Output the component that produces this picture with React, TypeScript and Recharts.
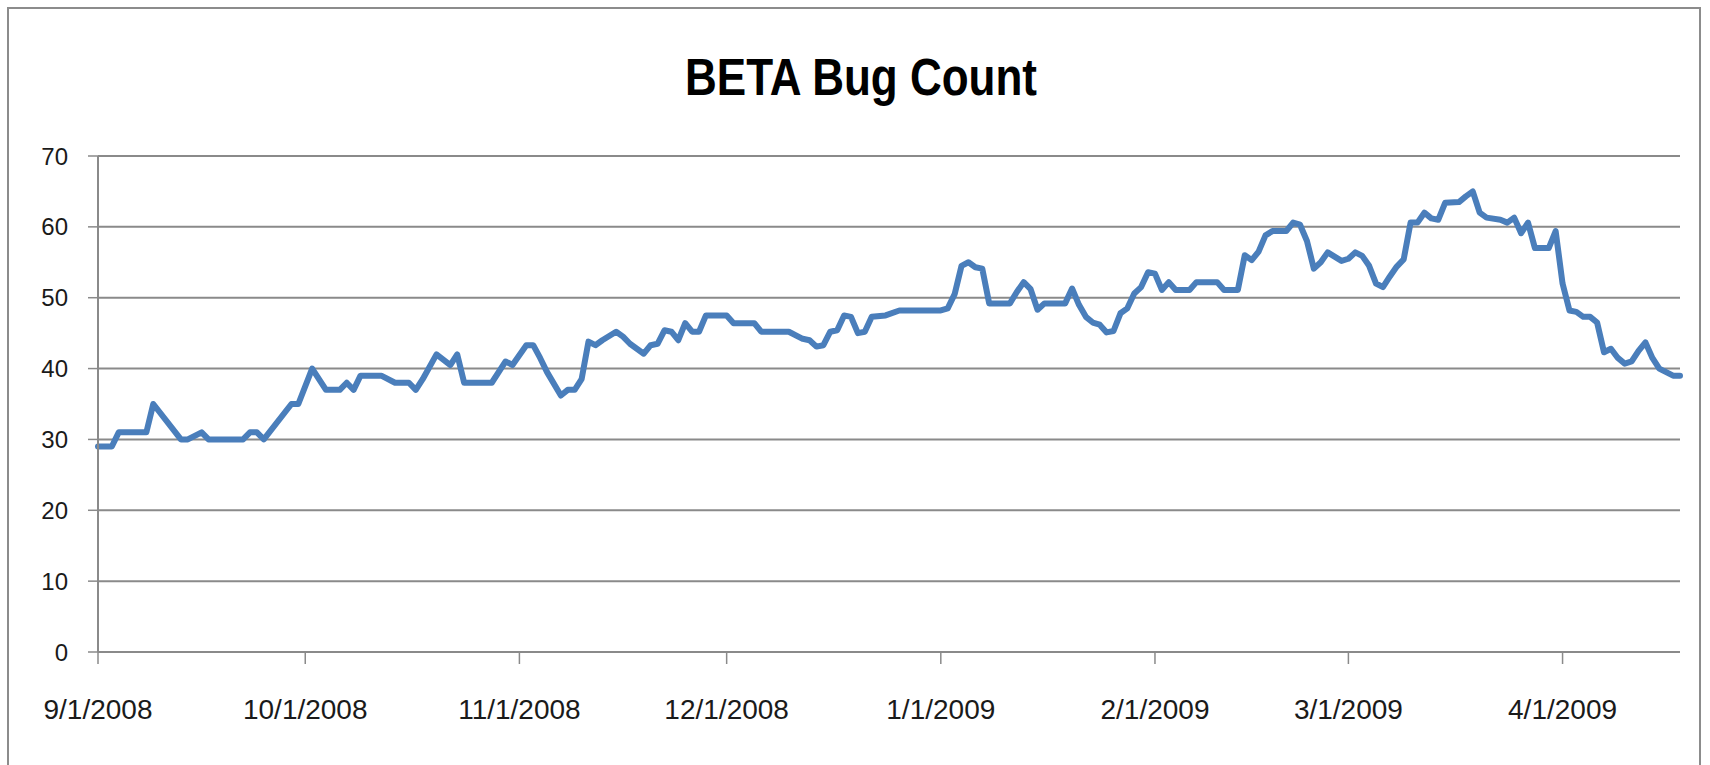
import React from 'react';
import { LineChart, Line, XAxis, YAxis, CartesianGrid } from 'recharts';

const chartTitle = 'BETA Bug Count';

const dates = [
  '2008-09-01', '2008-09-03', '2008-09-04', '2008-09-08', '2008-09-09', '2008-09-13', '2008-09-14', '2008-09-16',
  '2008-09-17', '2008-09-22', '2008-09-23', '2008-09-24', '2008-09-25', '2008-09-29', '2008-09-30', '2008-10-02',
  '2008-10-04', '2008-10-06', '2008-10-07', '2008-10-08', '2008-10-09', '2008-10-12', '2008-10-14', '2008-10-16',
  '2008-10-17', '2008-10-18', '2008-10-20', '2008-10-22', '2008-10-23', '2008-10-24', '2008-10-28', '2008-10-30',
  '2008-10-31', '2008-11-02', '2008-11-03', '2008-11-04', '2008-11-05', '2008-11-07', '2008-11-08', '2008-11-09',
  '2008-11-10', '2008-11-11', '2008-11-12', '2008-11-13', '2008-11-15', '2008-11-16', '2008-11-17', '2008-11-19',
  '2008-11-20', '2008-11-21', '2008-11-22', '2008-11-23', '2008-11-24', '2008-11-25', '2008-11-26', '2008-11-27',
  '2008-11-28', '2008-12-01', '2008-12-02', '2008-12-05', '2008-12-06', '2008-12-10', '2008-12-12', '2008-12-13',
  '2008-12-14', '2008-12-15', '2008-12-16', '2008-12-17', '2008-12-18', '2008-12-19', '2008-12-20', '2008-12-21',
  '2008-12-22', '2008-12-24', '2008-12-26', '2009-01-01', '2009-01-02', '2009-01-03', '2009-01-04', '2009-01-05',
  '2009-01-06', '2009-01-07', '2009-01-08', '2009-01-11', '2009-01-12', '2009-01-13', '2009-01-14', '2009-01-15',
  '2009-01-16', '2009-01-19', '2009-01-20', '2009-01-21', '2009-01-22', '2009-01-23', '2009-01-24', '2009-01-25',
  '2009-01-26', '2009-01-27', '2009-01-28', '2009-01-29', '2009-01-30', '2009-01-31', '2009-02-01', '2009-02-02',
  '2009-02-03', '2009-02-04', '2009-02-06', '2009-02-07', '2009-02-10', '2009-02-11', '2009-02-13', '2009-02-14',
  '2009-02-15', '2009-02-16', '2009-02-17', '2009-02-18', '2009-02-20', '2009-02-21', '2009-02-22', '2009-02-23',
  '2009-02-24', '2009-02-25', '2009-02-26', '2009-02-27', '2009-02-28', '2009-03-01', '2009-03-02', '2009-03-03',
  '2009-03-04', '2009-03-05', '2009-03-06', '2009-03-07', '2009-03-08', '2009-03-09', '2009-03-10', '2009-03-11',
  '2009-03-12', '2009-03-13', '2009-03-14', '2009-03-15', '2009-03-17', '2009-03-18', '2009-03-19', '2009-03-20',
  '2009-03-21', '2009-03-23', '2009-03-24', '2009-03-25', '2009-03-26', '2009-03-27', '2009-03-28', '2009-03-30',
  '2009-03-31', '2009-04-01', '2009-04-02', '2009-04-03', '2009-04-04', '2009-04-05', '2009-04-06', '2009-04-07',
  '2009-04-08', '2009-04-09', '2009-04-10', '2009-04-11', '2009-04-12', '2009-04-13', '2009-04-14', '2009-04-15',
  '2009-04-16', '2009-04-17', '2009-04-18',
];

const bugCounts = [
  29, 29, 31, 31, 35, 30, 30, 31,
  30, 30, 31, 31, 30, 35, 35, 40,
  37, 37, 38, 37, 39, 39, 38, 38,
  37, 38.5, 42, 40.5, 42, 38, 38, 41,
  40.5, 43.3, 43.3, 41.5, 39.5, 36.2, 37, 37,
  38.5, 43.8, 43.3, 44, 45.2, 44.5, 43.5, 42.1,
  43.3, 43.5, 45.4, 45.2, 44, 46.4, 45.2, 45.2,
  47.5, 47.5, 46.4, 46.4, 45.2, 45.2, 44.2, 44,
  43.1, 43.3, 45.2, 45.4, 47.5, 47.3, 45, 45.2,
  47.3, 47.5, 48.2, 48.2, 48.5, 50.5, 54.5, 55,
  54.3, 54.1, 49.2, 49.2, 50.8, 52.2, 51.2, 48.3,
  49.2, 49.2, 51.3, 49, 47.3, 46.5, 46.2, 45.1,
  45.3, 47.8, 48.5, 50.6, 51.5, 53.6, 53.4, 51.1,
  52.2, 51.1, 51.1, 52.2, 52.2, 51.1, 51.1, 56,
  55.3, 56.5, 58.8, 59.4, 59.4, 60.6, 60.3, 58,
  54.1, 55, 56.4, 55.8, 55.2, 55.5, 56.4, 55.9,
  54.5, 52, 51.5, 53, 54.4, 55.4, 60.6, 60.6,
  62, 61.2, 61, 63.4, 63.5, 64.3, 65, 62,
  61.3, 61, 60.6, 61.3, 59.1, 60.6, 57, 57,
  59.4, 52, 48.2, 48, 47.3, 47.3, 46.5, 42.3,
  42.8, 41.5, 40.7, 41, 42.5, 43.7, 41.5, 40,
  39.5, 39, 39,
];

const xTickDates = [
  '2008-09-01', '2008-10-01', '2008-11-01', '2008-12-01',
  '2009-01-01', '2009-02-01', '2009-03-01', '2009-04-01',
];

const yTicks = [0, 10, 20, 30, 40, 50, 60, 70];

const toDay = (s: string) => {
  const [y, m, d] = s.split('-').map(Number);
  return Date.UTC(y, m - 1, d) / 86400000;
};

const fmtDay = (v: number) => {
  const dt = new Date(Math.round(v) * 86400000);
  return `${dt.getUTCMonth() + 1}/${dt.getUTCDate()}/${dt.getUTCFullYear()}`;
};

const data = dates.map((s, i) => ({ day: toDay(s), bugs: bugCounts[i] }));
const xTicks = xTickDates.map(toDay);
const xMin = toDay(dates[0]);
const xMax = toDay(dates[dates.length - 1]);

const FONT = '"Liberation Sans", Arial, sans-serif';
const GRID = '#8a8a8a';

export default function App() {
  return (
    <div style={{ position: 'fixed', left: 0, top: 0, width: 1710, height: 765, background: '#fff', overflow: 'hidden' }}>
      <div
        style={{
          position: 'absolute',
          left: 7,
          top: 7,
          width: 1694,
          height: 800,
          borderTop: '2px solid #8c8c8c',
          borderLeft: '2px solid #8c8c8c',
          borderRight: '2px solid #8c8c8c',
          boxSizing: 'border-box',
        }}
      />
      <svg style={{ position: 'absolute', left: 0, top: 0 }} width={1710} height={130}>
        <text
          x={861}
          y={95}
          textAnchor="middle"
          fontFamily={FONT}
          fontWeight="bold"
          fontSize={51}
          fill="#000"
          textLength={352}
          lengthAdjust="spacingAndGlyphs"
        >
          {chartTitle}
        </text>
      </svg>
      <div style={{ position: 'absolute', left: 0, top: 0 }}>
        <LineChart width={1710} height={765} data={data} margin={{ top: 156, right: 30, bottom: 53, left: 0 }}>
          <CartesianGrid vertical={false} stroke={GRID} strokeWidth={2} />
          <XAxis
            dataKey="day"
            type="number"
            domain={[xMin, xMax]}
            ticks={xTicks}
            interval={0}
            tickFormatter={fmtDay}
            tickSize={12}
            tickMargin={35}
            height={60}
            axisLine={{ stroke: GRID, strokeWidth: 2 }}
            tickLine={{ stroke: GRID, strokeWidth: 1.5 }}
            tick={{ fill: '#1a1a1a', fontSize: 28, fontFamily: FONT }}
          />
          <YAxis
            type="number"
            domain={[0, 70]}
            ticks={yTicks}
            interval={0}
            width={98}
            tickSize={10}
            tickMargin={20}
            axisLine={{ stroke: GRID, strokeWidth: 2 }}
            tickLine={{ stroke: GRID, strokeWidth: 1.5 }}
            tick={{ fill: '#1a1a1a', fontSize: 24, fontFamily: FONT }}
          />
          <Line
            type="linear"
            dataKey="bugs"
            stroke="#4a7ebb"
            strokeWidth={6}
            strokeLinejoin="round"
            strokeLinecap="round"
            dot={false}
            activeDot={false}
            isAnimationActive={false}
          />
        </LineChart>
      </div>
    </div>
  );
}
